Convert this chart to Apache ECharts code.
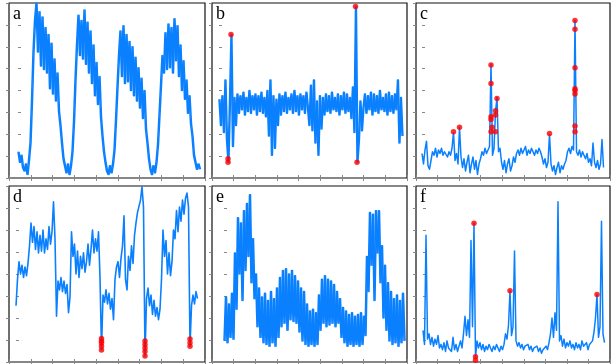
<!DOCTYPE html>
<html><head><meta charset="utf-8">
<script src="https://cdn.jsdelivr.net/npm/echarts@6/dist/echarts.min.js"></script>
<style>html,body{margin:0;padding:0;background:#fff}#c{width:613px;height:364px}</style>
</head><body><div id="c"></div>
<script>
// ---- data (0 = panel bottom, 100 = panel top) ----
const aVals = [15, 9, 13, 6, 4, 8, 2, 10, 20, 44, 72, 90, 100, 72, 95, 64, 92, 62, 86, 60, 82, 51, 77, 48, 68, 44, 60, 38, 30, 20, 11, 7, 3, 8, 2, 7, 15, 32, 56, 76, 93, 70, 90, 68, 96, 65, 89, 60, 84, 54, 76, 47, 66, 42, 58, 35, 24, 15, 9, 4, 2, 7, 3, 8, 16, 33, 52, 70, 84, 58, 87, 54, 82, 55, 78, 50, 75, 47, 69, 44, 63, 40, 57, 34, 50, 28, 20, 11, 5, 2, 7, 3, 9, 19, 36, 53, 70, 60, 83, 62, 88, 63, 86, 60, 91, 67, 87, 58, 76, 50, 67, 45, 56, 37, 47, 31, 24, 13, 9, 5, 8, 5];
const aDots = [];

const bVals = [45, 30, 47, 26, 56, 22, 9, 44, 82, 18, 46, 30,
  48, 37, 47, 39, 49, 36, 46, 38, 50, 37, 47, 39, 48, 36, 47, 38, 49, 37, 46, 35,
  50, 24, 56, 13, 47, 17, 45, 30,
  48, 36, 47, 38, 49, 37, 46, 39, 48, 37, 50, 38, 47, 36, 48, 39, 47, 37, 49,
  40, 30, 53, 27, 56, 20, 44, 13,
  47, 28, 46, 36,
  48, 38, 47, 37, 49, 39, 46, 38, 48, 36, 47, 39, 49, 37, 48, 38, 46,
  34, 52, 26, 98, 9, 22, 44, 27, 40,
  48, 37, 47, 39, 49, 36, 48, 38, 47, 37, 50, 39, 46, 38, 48, 36, 49, 38, 47, 37, 48, 39,
  56, 20, 46, 24];
const bDots = [[6, 11], [6, 9], [8, 82], [91, 98], [92, 9]];

const cVals = [14, 8, 16, 21, 7, 5, 10, 15, 13, 17, 12, 16, 14, 17, 13, 15, 16, 12,
  15, 13, 17, 26, 10, 14, 8, 29, 12, 6, 11, 4, 9, 13, 3, 8, 12, 5,
  10, 2, 8, 11, 15, 13, 17, 14, 16, 18, 65, 13, 17, 38, 46, 15, 17, 9,
  5, 10, 3, 8, 11, 4, 7, 12, 9, 14, 16, 13, 17, 14, 15, 18, 13, 16,
  14, 17, 15, 13, 16, 14, 17, 15, 12, 8, 11, 6, 9, 25, 8, 4, 7, 2,
  6, 9, 3, 7, 5, 8, 10, 15, 17, 14, 18, 16, 90, 15, 13, 16, 12, 15,
  13, 11, 14, 9, 11, 7, 20, 9, 6, 10, 5, 8, 22, 6];
const cDots = [[21, 26.5], [25, 29], [46, 64.6], [46, 54], [46, 35], [46, 33.5], [46, 26.5], [46.7, 29],
  [49, 38.5], [49, 36], [49, 26.5], [50, 45.5], [85, 25.5],
  [102, 90], [102, 85], [102, 63], [102, 51], [102, 50], [102, 48], [102, 29.7], [102, 26.5]];

const dVals = [32, 47, 57, 50, 55, 48, 54, 49, 56, 66, 79, 68, 77, 64, 74, 62,
  72, 63, 75, 62, 70, 64, 77, 67, 74, 91, 70, 26, 46, 41, 48, 40,
  46, 39, 44, 28, 37, 74, 60, 67, 50, 63, 48, 60, 53, 62, 51, 57,
  67, 55, 64, 75, 62, 70, 63, 74, 48, 6.8, 38, 34, 41, 33, 39, 30,
  36, 24, 47, 54, 57, 48, 59, 66, 83, 47, 41, 60, 52, 66, 56, 72,
  79, 85, 84, 92, 99.6, 88, 3.4, 36, 42, 32, 38, 27, 35, 26, 31, 24,
  30, 47, 75, 60, 69, 50, 62, 49, 57, 75, 70, 86, 74, 88, 80, 92,
  84, 93, 96, 88, 9, 32, 38, 33, 40, 36];
const dDots = [[57, 13.4], [57, 12], [57, 10.8], [57, 9], [57, 6.8],
  [86, 11.9], [86, 10], [86, 8], [86, 6], [86, 3.4],
  [116, 13], [116, 11], [116, 9]];

const eVals = [12, 37, 11, 33, 14, 39, 13, 62, 30, 82, 50, 79, 35, 86, 52, 90, 60, 95, 45, 70,
  36, 50, 20, 42, 14, 37, 11, 39, 10, 35, 9, 40, 11, 36, 9, 42, 14, 48, 20, 52,
  22, 53, 18, 50, 24, 52, 23, 49, 22, 46, 17, 42, 12, 40, 10, 33, 9, 29, 10, 30,
  9, 28, 10, 38, 18, 47, 22, 49, 20, 47, 21, 46, 22, 44, 20, 40, 22, 36, 14, 31,
  11, 29, 9, 27, 10, 28, 9, 26, 10, 27, 9, 28, 10, 26, 15, 60, 40, 85, 55, 84,
  35, 86, 62, 86, 45, 66, 25, 55, 18, 45, 12, 40, 10, 36, 11, 38, 9, 35, 11, 39, 12];
const eDots = [];

const fVals = [18, 10, 72, 13, 16, 10, 14, 9, 13, 10, 15, 8, 10, 7, 11, 6, 12, 8,
  9, 6, 14, 7, 10, 6, 9, 12, 8, 16, 26, 15, 24, 14, 69, 20, 79, 2.5,
  12, 8, 11, 7, 10, 6, 9, 7, 10, 8, 6, 9, 7, 10, 8, 6, 9, 7,
  10, 16, 13, 21, 40.5, 15, 20, 63, 12, 9, 11, 8, 10, 7, 9, 8, 10, 7,
  9, 6, 8, 7, 9, 6, 8, 5, 7, 6, 9, 7, 11, 16, 25, 14, 28, 18,
  91, 12, 15, 9, 13, 8, 11, 9, 12, 8, 10, 7, 11, 8, 10, 7, 12, 9,
  8, 11, 7, 10, 9, 12, 17, 25, 38.4, 14, 20, 80, 16, 11];
const fDots = [[34, 78.8], [35, 3], [35, 1], [58, 40.5], [116, 38.4]];

const labels = ['a', 'b', 'c', 'd', 'e', 'f'];
const xTickCount = 9;   // tick intervals along x
const yTickStep = 12.5; // 8 intervals along y

// ---- layout ----
const panels = [
  {vals: aVals, dots: aDots, left: 9,   top: 3,   width: 196, height: 175, xMin: -6,    xMax: 124.67},
  {vals: bVals, dots: bDots, left: 212, top: 3,   width: 195, height: 175, xMin: -4.67, xMax: 125.33},
  {vals: cVals, dots: cDots, left: 416, top: 3,   width: 194, height: 175, xMin: -4,    xMax: 125.33},
  {vals: dVals, dots: dDots, left: 9,   top: 186, width: 196, height: 176, xMin: -4.67, xMax: 126},
  {vals: eVals, dots: eDots, left: 212, top: 186, width: 195, height: 176, xMin: -8,    xMax: 122},
  {vals: fVals, dots: fDots, left: 416, top: 186, width: 194, height: 176, xMin: -4.67, xMax: 124.67}
];
const lineWidths = [1.5, 1.5, 1.5, 1.6, 1.5, 1.5];
const thicken = [1, 0.9, 0, 0, 1, 0];

const chart = echarts.init(document.getElementById('c'), null, {renderer: 'canvas'});
const grid = [], xAxis = [], yAxis = [], series = [], graphic = [];
const tick = {show: true, inside: true, length: 3, lineStyle: {color: '#888', width: 1}};
const hidden = {axisLine: {show: false}, axisTick: tick, axisLabel: {show: false}, splitLine: {show: false}};
panels.forEach((p, k) => {
  grid.push({left: p.left, top: p.top, width: p.width, height: p.height, show: true,
    borderColor: '#111', borderWidth: 1.2, backgroundColor: 'transparent'});
  xAxis.push({gridIndex: k, type: 'value', min: p.xMin, max: p.xMax, show: false});
  xAxis.push(Object.assign({gridIndex: k, type: 'value', position: 'top', min: 0, max: xTickCount, interval: 1}, hidden));
  xAxis.push(Object.assign({gridIndex: k, type: 'value', position: 'bottom', min: 0, max: xTickCount, interval: 1}, hidden));
  yAxis.push(Object.assign({gridIndex: k, type: 'value', position: 'left', min: 0, max: 100, interval: yTickStep}, hidden));
  yAxis.push(Object.assign({gridIndex: k, type: 'value', position: 'right', min: 0, max: 100, interval: yTickStep}, hidden));
  const ls = {color: '#0a80ff', width: lineWidths[k], join: 'round'};
  if (thicken[k]) Object.assign(ls, {shadowColor: '#0a80ff', shadowBlur: 0, shadowOffsetX: thicken[k], shadowOffsetY: 0});
  series.push({type: 'line', xAxisIndex: 3 * k, yAxisIndex: 2 * k,
    data: p.vals.map((v, i) => [i, v]), showSymbol: false, symbol: 'none',
    lineStyle: ls, silent: true});
  if (p.dots.length) series.push({type: 'scatter', xAxisIndex: 3 * k, yAxisIndex: 2 * k,
    data: p.dots, symbolSize: 5.5, itemStyle: {color: '#ff0000'}, z: 5, clip: false});
  graphic.push({type: 'text', left: p.left + 4, top: p.top + 2,
    style: {text: labels[k], font: '18px "Liberation Serif"', fill: '#000'}});
});
chart.setOption({animation: false, grid, xAxis, yAxis, series, graphic});
</script>
</body></html>
